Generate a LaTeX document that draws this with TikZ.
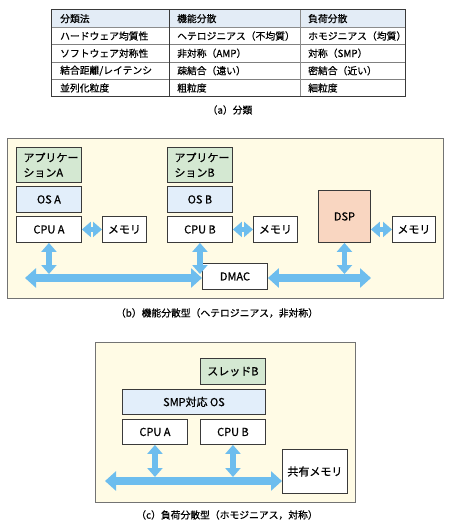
\documentclass[tikz,border=0pt]{standalone}
\usepackage{fontspec}
\setmainfont{Noto Sans CJK JP}[FakeBold=0.6]
\usetikzlibrary{arrows.meta}
\definecolor{bgY}{HTML}{FFFBE5}
\definecolor{appG}{HTML}{D4E8D2}
\definecolor{osB}{HTML}{E2EEFA}
\definecolor{dspP}{HTML}{F9D6C1}
\definecolor{arrC}{HTML}{6DBDEE}
\definecolor{hdrB}{HTML}{E3ECF6}
\definecolor{lineD}{HTML}{3A3A3A}
\begin{document}
\begin{tikzpicture}[x=1pt,y=-1pt,
  box/.style={draw=lineD, line width=0.9pt, fill=white, inner sep=0pt, anchor=north west, font=\fontsize{11}{15}\selectfont},
  cell/.style={anchor=west, inner sep=0pt, font=\fontsize{9.8}{12}\selectfont},
  captext/.style={inner sep=0pt, font=\fontsize{9.8}{12}\selectfont},
  panel/.style={draw=black!55, line width=0.8pt, fill=bgY},
  bigarrow/.style={draw=arrC, line width=8pt, {Triangle[width=19pt,length=11pt]}-{Triangle[width=19pt,length=11pt]}},
  smallarrow/.style={draw=arrC, line width=5.5pt, {Triangle[width=15pt,length=9pt]}-{Triangle[width=15pt,length=9pt]}}
]
\useasboundingbox (0,0) rectangle (450,532);
\fill[white] (0,0) rectangle (450,532);

% ---------- (a) table ----------
\fill[hdrB] (51,10) rectangle (405,27.3);
\draw[black!45, line width=0.8pt] (51,27.3) -- (405,27.3);
\foreach \yy in {44.7,62,79.3} \draw[black!50, line width=0.7pt] (51,\yy) -- (405,\yy);
\draw[lineD, line width=0.9pt] (169,10) -- (169,96.7);
\draw[black!45, line width=0.9pt] (300,10) -- (300,96.7);
\draw[lineD, line width=1pt] (51,10) rectangle (405,96.7);

\node[cell] (h1) at (60,18.6) {分類法};
\node[cell] (h2) at (177,18.6) {機能分散};
\node[cell] (h3) at (308,18.6) {負荷分散};
\node[cell] (r11) at (60,36) {ハードウェア均質性};
\node[cell] (r12) at (177,36) {ヘテロジニアス（不均質）};
\node[cell] (r13) at (308,36) {ホモジニアス（均質）};
\node[cell] (r21) at (60,53.3) {ソフトウェア対称性};
\node[cell] (r22) at (177,53.3) {非対称（AMP）};
\node[cell] (r23) at (308,53.3) {対称（SMP）};
\node[cell] (r31) at (60,70.7) {結合距離/レイテンシ};
\node[cell] (r32) at (177,70.7) {疎結合（遠い）};
\node[cell] (r33) at (308,70.7) {密結合（近い）};
\node[cell] (r41) at (60,88) {並列化粒度};
\node[cell] (r42) at (177,88) {粗粒度};
\node[cell] (r43) at (308,88) {細粒度};
\node[captext] (capa) at (230,110) {（a）分類};

% ---------- (b) heterogeneous ----------
\draw[panel] (7,138) rectangle (443,298);
\node[box, fill=appG, minimum width=65pt, minimum height=35pt, text width=51pt, align=left] (appA) at (16,147) {アプリケー\\ションA};
\node[box, fill=osB, minimum width=65pt, minimum height=26pt] (osA) at (16,186) {OS A};
\node[box, minimum width=65pt, minimum height=26pt] (cpuA) at (16,216) {CPU A};
\node[box, minimum width=44pt, minimum height=26pt] (memA) at (102,216) {メモリ};

\node[box, fill=appG, minimum width=65pt, minimum height=35pt, text width=51pt, align=left] (appB) at (167,147) {アプリケー\\ションB};
\node[box, fill=osB, minimum width=65pt, minimum height=26pt] (osB) at (167,186) {OS B};
\node[box, minimum width=65pt, minimum height=26pt] (cpuB) at (167,216) {CPU B};
\node[box, minimum width=44pt, minimum height=26pt] (memB) at (253,216) {メモリ};

\node[box, fill=dspP, minimum width=52pt, minimum height=52pt] (dsp) at (318,190) {DSP};
\node[box, minimum width=43pt, minimum height=26pt] (memD) at (392,216) {メモリ};

\node[box, minimum width=65pt, minimum height=26pt] (dmac) at (202,263) {DMAC};

\coordinate (busL) at (25,278);
\coordinate (busR) at (371,278);
\coordinate (busTop) at (0,274);
\draw[bigarrow] (busL) -- (busL -| dmac.west);
\draw[bigarrow] (busL -| dmac.east) -- (busR);
\draw[smallarrow] (cpuA.south) -- (cpuA.south |- busTop);
\draw[smallarrow] (cpuB.south) -- (cpuB.south |- busTop);
\draw[smallarrow] (dsp.south) -- (dsp.south |- busTop);
\draw[smallarrow] (cpuA.east) -- (memA.west);
\draw[smallarrow] (cpuB.east) -- (memB.west);
\draw[smallarrow] (dsp.east |- memD.west) -- (memD.west);
\node[captext] (capb) at (217,313) {（b）機能分散型（ヘテロジニアス，非対称）};

% ---------- (c) homogeneous ----------
\draw[panel] (95,342) rectangle (355,502);
\node[box, fill=appG, minimum width=65pt, minimum height=26pt] (thB) at (200,358) {スレッドB};
\node[box, fill=osB, minimum width=143pt, minimum height=25pt] (smpos) at (122,389) {SMP対応 OS};
\node[box, minimum width=65pt, minimum height=25pt] (ccpuA) at (122,419) {CPU A};
\node[box, minimum width=65pt, minimum height=25pt] (ccpuB) at (200,419) {CPU B};
\node[box, minimum width=65pt, minimum height=44pt] (shm) at (282,449) {共有メモリ};

\coordinate (cbusL) at (105,481);
\coordinate (cbusTop) at (0,477);
\draw[bigarrow] (cbusL) -- (cbusL -| shm.west);
\draw[smallarrow] (ccpuA.south) -- (ccpuA.south |- cbusTop);
\draw[smallarrow] (ccpuB.south) -- (ccpuB.south |- cbusTop);
\node[captext] (capc) at (227,515) {（c）負荷分散型（ホモジニアス，対称）};
\end{tikzpicture}
\end{document}
